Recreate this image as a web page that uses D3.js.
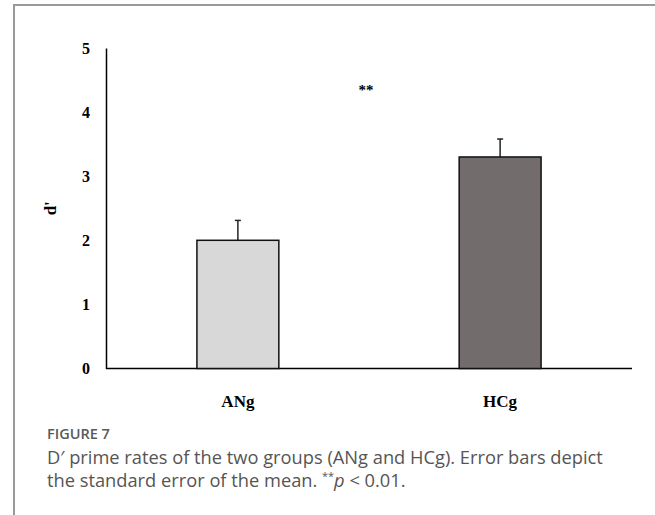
<!DOCTYPE html>
<html><head><meta charset="utf-8">
<script src="https://cdn.jsdelivr.net/npm/d3@7"></script>
<style>body{margin:0;background:#fff}svg{display:block}</style>
</head><body>
<script>
const categories = ["ANg", "HCg"];
const means = [2.0, 3.30];
const sems = [0.31, 0.28];
const yTicks = [0, 1, 2, 3, 4, 5];
const fills = ["#d8d8d8", "#726d6c"];

const W = 655, H = 515;
const svg = d3.select("body").append("svg").attr("width", W).attr("height", H);

// frame
svg.append("line").attr("x1", 14).attr("x2", 14).attr("y1", 4).attr("y2", H).attr("stroke", "#9a9a9a").attr("stroke-width", 2);
svg.append("line").attr("x1", 13).attr("x2", W).attr("y1", 5).attr("y2", 5).attr("stroke", "#9a9a9a").attr("stroke-width", 2);

const x0 = 106, x1 = 632, yTop = 48, yBot = 368.5;
const y = d3.scaleLinear().domain([0, 5]).range([yBot, yTop]);
const x = d3.scaleBand().domain(categories).range([x0, x1]).paddingInner(0.6876).paddingOuter(0.3467);

// axes
const yAxis = d3.axisLeft(y).tickValues(yTicks).tickFormat(d3.format("d")).tickSize(0).tickPadding(16);
const gy = svg.append("g").attr("transform", `translate(${x0},0)`).call(yAxis);
gy.select(".domain").attr("stroke", "#000").attr("stroke-width", 1.5);
gy.selectAll("text").attr("font-family", "Liberation Serif").attr("font-weight", "bold").attr("font-size", 16).attr("fill", "#000");

const xAxis = d3.axisBottom(x).tickSize(0).tickPadding(26);
const gx = svg.append("g").attr("transform", `translate(0,${yBot})`).call(xAxis);
gx.select(".domain").attr("d", `M${x0},0H${x1}`).attr("stroke", "#000").attr("stroke-width", 1.5);
gx.selectAll("text").attr("font-family", "Liberation Serif").attr("font-weight", "bold").attr("font-size", 17).attr("fill", "#000");

// y label
svg.append("text").attr("transform", `translate(56,${(yTop+yBot)/2}) rotate(-90)`)
  .attr("text-anchor", "middle").attr("font-family", "Liberation Serif").attr("font-weight", "bold")
  .attr("font-size", 17).text("d'");

// error bars (upward)
const eb = svg.append("g");
categories.forEach((c, i) => {
  const cx = x(c) + x.bandwidth() / 2;
  eb.append("line").attr("x1", cx).attr("x2", cx).attr("y1", y(means[i])).attr("y2", y(means[i] + sems[i]))
    .attr("stroke", "#222").attr("stroke-width", 1.5);
  eb.append("line").attr("x1", cx - 3).attr("x2", cx + 3).attr("y1", y(means[i] + sems[i])).attr("y2", y(means[i] + sems[i]))
    .attr("stroke", "#222").attr("stroke-width", 1.5);
});

// bars
svg.append("g").selectAll("rect").data(categories).join("rect")
  .attr("x", d => x(d)).attr("width", x.bandwidth())
  .attr("y", (d, i) => y(means[i])).attr("height", (d, i) => yBot - y(means[i]))
  .attr("fill", (d, i) => fills[i]).attr("stroke", "#111").attr("stroke-width", 1.5);

// significance
svg.append("text").attr("x", 366).attr("y", 95).attr("text-anchor", "middle")
  .attr("font-family", "Liberation Serif").attr("font-weight", "bold").attr("font-size", 15).text("**");

// caption
const capX = 47;
const fig = svg.append("text").attr("x", capX).attr("y", 439).attr("font-family", "Open Sans").attr("font-weight", 600)
  .attr("font-size", 13).attr("fill", "#5a5a5a").text("FIGURE 7");
const fw = fig.node().getComputedTextLength();
fig.attr("font-size", 13 * 63 / fw);

const cap = svg.append("g").attr("font-family", "Open Sans").attr("font-size", 17).attr("fill", "#555");
const l1 = cap.append("text").attr("x", capX).attr("y", 464).text("D\u2032 prime rates of the two groups (ANg and HCg). Error bars depict");
const w1 = l1.node().getComputedTextLength();
const fs = 17 * 556 / w1;
cap.attr("font-size", fs);
const t2 = cap.append("text").attr("x", capX).attr("y", 487);
t2.append("tspan").text("the standard error of the mean. ");
t2.append("tspan").attr("font-size", fs * 0.6).attr("dy", -7).text("**");
t2.append("tspan").attr("dy", 7).attr("font-style", "italic").text("p");
t2.append("tspan").text(" < 0.01.");
</script>
</body></html>
